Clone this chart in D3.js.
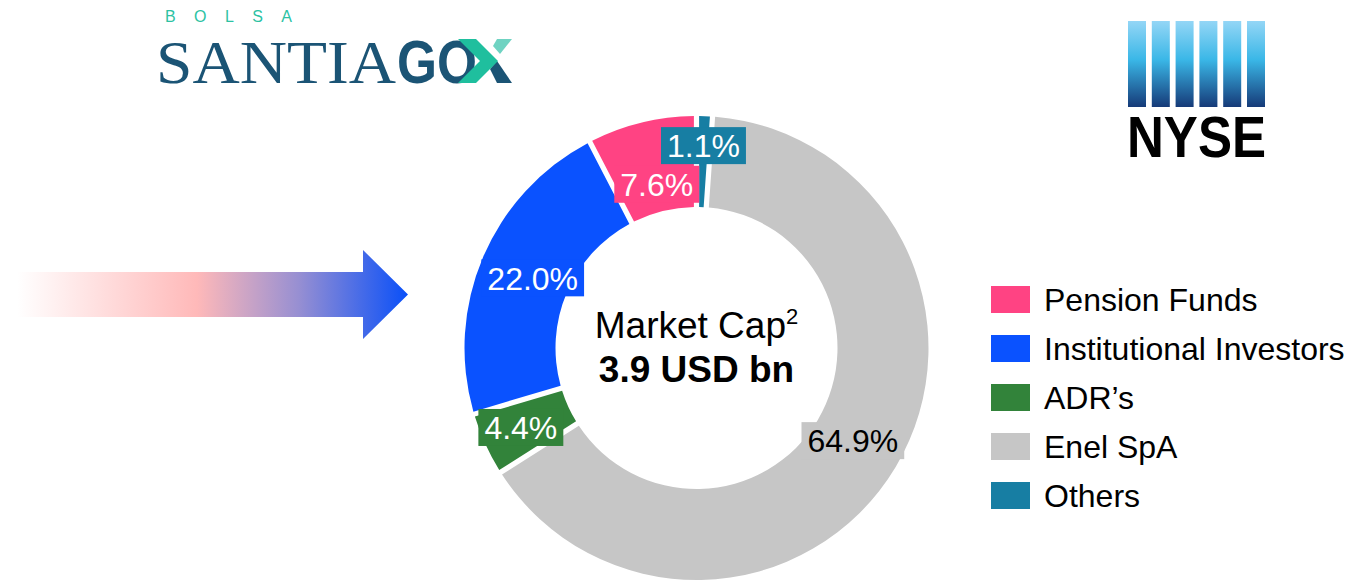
<!DOCTYPE html>
<html>
<head>
<meta charset="utf-8">
<script src="https://cdn.jsdelivr.net/npm/d3@7"></script>
<style>
  body { margin: 0; background: #fff; }
  svg { display: block; font-family: "Liberation Sans", Arial, sans-serif; }
</style>
</head>
<body>
<svg id="chart" width="1357" height="582"></svg>
<script>
// shareholder structure, % of market cap
const categories = ["Pension Funds", "Institutional Investors", "ADR’s", "Enel SpA", "Others"];
const shares = [7.6, 22.0, 4.4, 64.9, 1.1];
const colors = ["#ff4383", "#0a52ff", "#32833a", "#c6c6c6", "#177ea3"];
const labelColors = ["#fff", "#fff", "#fff", "#000", "#fff"];
const centerTitle = "Market Cap";
const centerValue = "3.9 USD bn";

// label distance from centre, per slice (layout only)
const labelRadius = {"Pension Funds": 168, "Institutional Investors": 178, "ADR’s": 193, "Enel SpA": 182, "Others": 202};

const svg = d3.select("#chart");
const cx = 696.5, cy = 348;
const outerR = 232, innerR = 141;

const data = categories.map((c, i) => ({name: c, value: shares[i], color: colors[i], text: labelColors[i]}));

// ---------- logos ----------
const defs = svg.append("defs");

const nyseGrad = defs.append("linearGradient")
    .attr("id", "nyse").attr("x1", 0).attr("y1", 0).attr("x2", 0).attr("y2", 1);
nyseGrad.append("stop").attr("offset", 0).attr("stop-color", "#94d6f6");
nyseGrad.append("stop").attr("offset", 0.45).attr("stop-color", "#3ab7e7");
nyseGrad.append("stop").attr("offset", 1).attr("stop-color", "#163a78");

const nyse = svg.append("g");
nyse.selectAll("rect")
  .data(d3.range(6))
  .join("rect")
    .attr("x", d => 1128 + d * 23.8)
    .attr("y", 21)
    .attr("width", 18)
    .attr("height", 86)
    .attr("fill", "url(#nyse)");
nyse.append("text")
    .attr("x", 1127).attr("y", 157)
    .attr("font-size", 57).attr("font-weight", "bold")
    .attr("textLength", 139).attr("lengthAdjust", "spacingAndGlyphs")
    .text("NYSE");

const bolsa = svg.append("g").attr("fill", "#1b5475");
bolsa.append("text")
    .attr("x", 165).attr("y", 22)
    .attr("font-size", 16)
    .attr("fill", "#2cc2a3")
    .attr("textLength", 127)
    .text("BOLSA");
bolsa.append("text")
    .attr("x", 156).attr("y", 83)
    .attr("font-family", "Liberation Serif, serif")
    .attr("font-size", 62)
    .attr("textLength", 240).attr("lengthAdjust", "spacingAndGlyphs")
    .text("SANTIA");
bolsa.append("text")
    .attr("x", 397).attr("y", 83)
    .attr("font-size", 61).attr("font-weight", "bold")
    .attr("textLength", 80).attr("lengthAdjust", "spacingAndGlyphs")
    .text("GO");
bolsa.append("polygon")
    .attr("points", "490,69 497,61 512,83 497,83")
    .attr("fill", "#1b5475");
bolsa.append("polygon")
    .attr("points", "497,39 512,39 500,54 493,46")
    .attr("fill", "#6fd3c2");
bolsa.append("polygon")
    .attr("points", "458,39 476,39 498,61 476,83 458,83 480,61")
    .attr("fill", "#1fbf9e");

// ---------- arrow ----------
const arrowGrad = defs.append("linearGradient")
    .attr("id", "arrow").attr("gradientUnits", "userSpaceOnUse")
    .attr("x1", 17).attr("x2", 408).attr("y1", 0).attr("y2", 0);
arrowGrad.append("stop").attr("offset", 0).attr("stop-color", "#fff");
arrowGrad.append("stop").attr("offset", 0.46).attr("stop-color", "#ffb9b9");
arrowGrad.append("stop").attr("offset", 0.72).attr("stop-color", "#978fd2");
arrowGrad.append("stop").attr("offset", 1).attr("stop-color", "#0a50f8");

svg.append("polygon")
    .attr("points", "17,272 363,272 363,250 408,294.5 363,339 363,317 17,317")
    .attr("fill", "url(#arrow)");

// ---------- donut ----------
const pie = d3.pie()
    .sort(null)
    .value(d => d.value);

// clockwise from 12 o'clock: Others, Enel, ADR's, Institutional, Pension
const arcs = pie(data.slice().reverse());

const arc = d3.arc()
    .innerRadius(innerR)
    .outerRadius(outerR)
    .padAngle(0.02)
    .padRadius(260);

const g = svg.append("g").attr("transform", `translate(${cx},${cy})`);

g.selectAll("path")
  .data(arcs)
  .join("path")
    .attr("d", arc)
    .attr("fill", d => d.data.color);

const labels = g.selectAll("g.label")
  .data(arcs)
  .join("g")
    .attr("class", "label")
    .attr("transform", d => {
      const a = (d.startAngle + d.endAngle) / 2;
      const r = labelRadius[d.data.name];
      return `translate(${r * Math.sin(a)},${-r * Math.cos(a)})`;
    });

labels.append("text")
    .attr("text-anchor", "middle")
    .attr("dy", "0.35em")
    .attr("font-size", 32)
    .attr("fill", d => d.data.text)
    .text(d => d3.format(".1f")(d.data.value) + "%")
    .each(function(d) {
      const b = this.getBBox();
      d3.select(this.parentNode).insert("rect", "text")
        .attr("x", b.x - 6)
        .attr("y", -19)
        .attr("width", b.width + 12)
        .attr("height", 37)
        .attr("fill", d.data.color);
    });

// centre text
const ct = g.append("text")
    .attr("text-anchor", "middle")
    .attr("y", -10)
    .attr("font-size", 37);
ct.append("tspan").text(centerTitle);
ct.append("tspan").attr("font-size", 22).attr("dy", -14).text("2");

g.append("text")
    .attr("text-anchor", "middle")
    .attr("y", 34)
    .attr("font-size", 37)
    .attr("font-weight", "bold")
    .text(centerValue);

// ---------- legend ----------
const legend = svg.append("g")
    .attr("transform", "translate(991,299.5)")
  .selectAll("g")
  .data(data)
  .join("g")
    .attr("transform", (d, i) => `translate(0,${i * 49})`);

legend.append("rect")
    .attr("y", -13.5)
    .attr("width", 39)
    .attr("height", 27)
    .attr("fill", d => d.color);

legend.append("text")
    .attr("x", 53)
    .attr("dy", "0.36em")
    .attr("font-size", 32)
    .text(d => d.name);
</script>
</body>
</html>
